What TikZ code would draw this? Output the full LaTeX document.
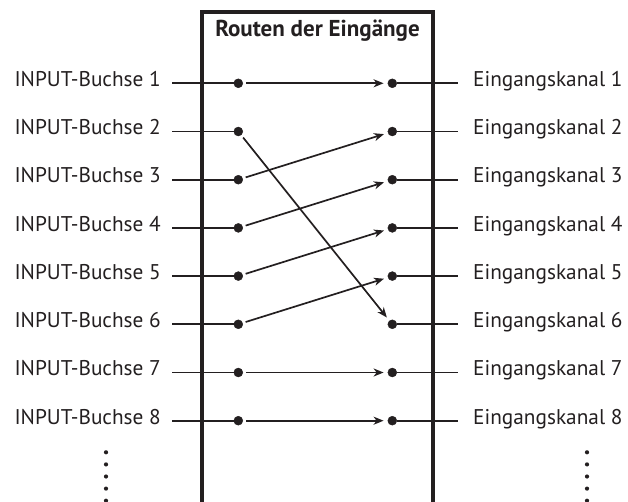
\documentclass[tikz,border=0pt]{standalone}
\usepackage{fontspec}
\setmainfont{PT Sans}
\usepackage{tikz}
\usetikzlibrary{arrows.meta, positioning}
\definecolor{ink}{HTML}{231F20}

\begin{document}
\begin{tikzpicture}[x=1pt, y=-1pt,
        inlabel/.style={anchor=base east, inner xsep=11pt, inner ysep=0pt, font=\fontsize{21.3}{24}\selectfont, text=ink},
        outlabel/.style={anchor=base west, inner xsep=15pt, inner ysep=0pt, font=\fontsize{21.3}{24}\selectfont, text=ink},
        jack/.style={draw=ink, fill=ink, circle, inner sep=0pt, minimum size=9pt},
        wire/.style={draw=ink, line width=1.7pt},
        route/.style={wire, -{Stealth[length=10pt, width=8pt, inset=3pt]}, shorten <=3pt, shorten >=4pt},
        frame/.style={draw=ink, line width=4pt},
        vdot/.style={fill=ink, circle, inner sep=0pt, minimum size=4.2pt}
    ]
        \useasboundingbox (0,0) rectangle (628,502);

        \draw[frame] (201.7,530) -- (201.7,12) -- (432.5,12) -- (432.5,530);
        \node[font=\bfseries\fontsize{23}{26}\selectfont, text=ink, anchor=base] (title) at (317.5,36.7) {Routen der Eingänge};

        \foreach \i in {1,...,8} {
            \pgfmathsetmacro{\rowy}{83.3+48.2*(\i-1)}
            \node[inlabel] (in\i) at (172,\rowy+3.3) {INPUT-Buchse \i};
            \node[jack] (a\i) at (238.3,\rowy) {};
            \node[jack] (b\i) at (392.3,\rowy) {};
            \node[outlabel] (out\i) at (458,\rowy+3.3) {Eingangskanal \i};
            \draw[wire] (in\i.east |- a\i) -- (a\i);
            \draw[wire] (b\i) -- (out\i.west |- b\i);
        }

        % routing
        \foreach \s/\t in {1/1, 2/6, 3/2, 4/3, 5/4, 6/5, 7/7, 8/8}
            \draw[route] (a\s) -- (b\t);

        \foreach \k in {0,...,4} {
            \node[vdot] (ldot\k) at (106,452.3+12.1*\k) {};
            \node[vdot] (rdot\k) at (587,452.3+12.1*\k) {};
        }
    \end{tikzpicture}
\end{document}
